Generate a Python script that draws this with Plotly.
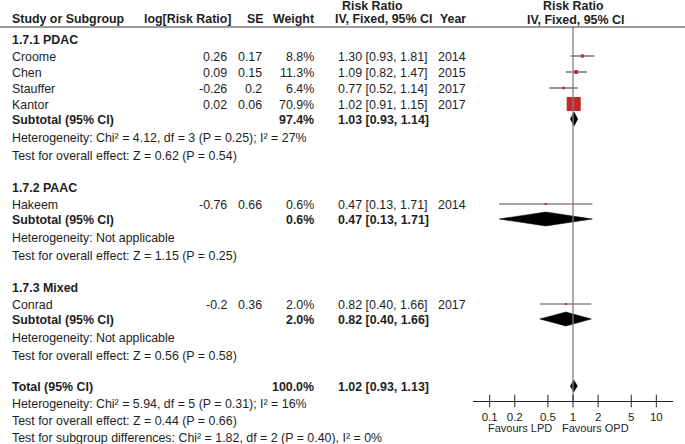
import plotly.graph_objects as go

# ---------------- data ----------------
groups = ["1.7.1 PDAC", "1.7.2 PAAC", "1.7.3 Mixed"]
studies = [["Croome", "Chen", "Stauffer", "Kantor"], ["Hakeem"], ["Conrad"]]
log_rr = [[0.26, 0.09, -0.26, 0.02], [-0.76], [-0.2]]
se = [[0.17, 0.15, 0.2, 0.06], [0.66], [0.36]]
weight = [[8.8, 11.3, 6.4, 70.9], [0.6], [2.0]]
rr = [[1.30, 1.09, 0.77, 1.02], [0.47], [0.82]]
rr_lo = [[0.93, 0.82, 0.52, 0.91], [0.13], [0.40]]
rr_hi = [[1.81, 1.47, 1.14, 1.15], [1.71], [1.66]]
year = [[2014, 2015, 2017, 2017], [2014], [2017]]

sub_weight = [97.4, 0.6, 2.0]
sub_rr = [1.03, 0.47, 0.82]
sub_lo = [0.93, 0.13, 0.40]
sub_hi = [1.14, 1.71, 1.66]
sub_het = ["Heterogeneity: Chi² = 4.12, df = 3 (P = 0.25); I² = 27%",
           "Heterogeneity: Not applicable",
           "Heterogeneity: Not applicable"]
sub_test = ["Test for overall effect: Z = 0.62 (P = 0.54)",
            "Test for overall effect: Z = 1.15 (P = 0.25)",
            "Test for overall effect: Z = 0.56 (P = 0.58)"]

total_weight = 100.0
total_rr, total_lo, total_hi = 1.02, 0.93, 1.13
total_texts = ["Heterogeneity: Chi² = 5.94, df = 5 (P = 0.31); I² = 16%",
               "Test for overall effect: Z = 0.44 (P = 0.66)",
               "Test for subgroup differences: Chi² = 1.82, df = 2 (P = 0.40), I² = 0%"]

tick_vals = [0.1, 0.2, 0.5, 1, 2, 5, 10]
tick_text = ["0.1", "0.2", "0.5", "1", "2", "5", "10"]
favours = ["Favours LPD", "Favours OPD"]

# ---------------- layout helpers ----------------
W, H = 685, 444
AXIS_Y = 401
FONT = "Liberation Sans, Arial, sans-serif"
TXT = "#1e1e1e"
RED = "#c4262b"
FS = 12.4

def px(x):
    return x / W

def py(y):
    return 1 - y / H

annotations = []

def txt(x, y, s, anchor="left", bold=False, size=FS):
    annotations.append(dict(
        x=px(x), y=py(y), xref="paper", yref="paper", text=f"<b>{s}</b>" if bold else s,
        showarrow=False, xanchor=anchor, yanchor="middle",
        font=dict(family=FONT, size=size, color=TXT)))

# column positions (screen pixels)
C_NAME, C_LOG, C_SE, C_W, C_CI, C_YR = 10, 229, 264, 316, 336, 436

fig = go.Figure()

# headers
txt(372, 6, "Risk Ratio", "center", True)
txt(573, 6, "Risk Ratio", "center", True)
txt(C_NAME, 19, "Study or Subgroup", "left", True)
txt(233, 19, "log[Risk Ratio]", "right", True)
txt(266, 19, "SE", "right", True)
txt(316, 19, "Weight", "right", True)
txt(333, 19, "IV, Fixed, 95% CI", "left", True)
txt(438, 19, "Year", "left", True)
txt(575, 20, "IV, Fixed, 95% CI", "center", True)

shapes = [dict(type="line", xref="paper", yref="paper", x0=0, x1=1,
               y0=py(27), y1=py(27), line=dict(color="#3a3a3a", width=1))]

def ci_str(e, l, h):
    return f"{e:.2f} [{l:.2f}, {h:.2f}]"

def diamond(e, l, h, y, hh):
    fig.add_trace(go.Scatter(
        x=[l, e, h, e, l], y=[y, y - hh, y, y + hh, y], mode="lines",
        fill="toself", fillcolor="black", line=dict(color="black", width=0.5),
        hoverinfo="skip", showlegend=False))

group_start = [40, 188, 288]
row_h = 16
for g in range(len(groups)):
    y0 = group_start[g]
    txt(C_NAME, y0, groups[g], "left", True)
    y = y0 + 17
    for i, name in enumerate(studies[g]):
        txt(C_NAME, y, name)
        txt(C_LOG, y, str(log_rr[g][i]), "right")
        txt(C_SE, y, str(se[g][i]), "right")
        txt(C_W, y, f"{weight[g][i]:.1f}%", "right")
        txt(C_CI, y, ci_str(rr[g][i], rr_lo[g][i], rr_hi[g][i]))
        txt(C_YR, y, str(year[g][i]))
        # CI line
        fig.add_trace(go.Scatter(
            x=[rr_lo[g][i], rr_hi[g][i]], y=[y - 1, y - 1], mode="lines",
            line=dict(color="#5a4c4c", width=1.2), hoverinfo="skip", showlegend=False))
        size = max(2.0, 14 * (weight[g][i] / 70.9) ** 0.7)
        fig.add_trace(go.Scatter(
            x=[rr[g][i]], y=[y - 1], mode="markers",
            marker=dict(symbol="square", size=size, color=RED,
                        line=dict(width=0)), hoverinfo="skip", showlegend=False))
        y += row_h
    y -= 1
    txt(C_NAME, y, "Subtotal (95% CI)", "left", True)
    txt(C_W, y, f"{sub_weight[g]:.1f}%", "right", True)
    txt(C_CI, y, ci_str(sub_rr[g], sub_lo[g], sub_hi[g]), "left", True)
    diamond(sub_rr[g], sub_lo[g], sub_hi[g], y - 1, 7)
    txt(C_NAME, y + 18, sub_het[g])
    txt(C_NAME, y + 36, sub_test[g])

# total
txt(C_NAME, 387, "Total (95% CI)", "left", True)
txt(C_W, 387, f"{total_weight:.1f}%", "right", True)
txt(C_CI, 387, ci_str(total_rr, total_lo, total_hi), "left", True)
diamond(total_rr, total_lo, total_hi, 386, 6)
for k, s in enumerate(total_texts):
    txt(C_NAME, 404 + 17 * k, s)

# null line
fig.add_trace(go.Scatter(x=[1, 1], y=[27, AXIS_Y], mode="lines",
                         line=dict(color="#8c7b7b", width=1.3),
                         hoverinfo="skip", showlegend=False))
# tick marks crossing axis
fig.add_trace(go.Scatter(x=tick_vals, y=[AXIS_Y] * len(tick_vals), mode="markers",
                         marker=dict(symbol="line-ns", size=9,
                                     line=dict(color="#222", width=1)),
                         cliponaxis=False, hoverinfo="skip", showlegend=False))

# favours labels
txt(554, 428, favours[0], "right", size=11)
txt(560, 428, favours[1], "left", size=11)

fig.update_layout(
    width=W, height=H, autosize=False,
    margin=dict(l=0, r=0, t=0, b=0),
    paper_bgcolor="white", plot_bgcolor="rgba(0,0,0,0)",
    annotations=annotations, shapes=shapes,
    xaxis=dict(type="log", range=[-1.2, 1.2], domain=[px(473), px(673)],
               showgrid=False, zeroline=False, showline=True,
               linecolor="#222", linewidth=1,
               tickvals=tick_vals, ticktext=tick_text, ticks="",
               ticklabelstandoff=5,
               tickfont=dict(family=FONT, size=11.5, color=TXT)),
    yaxis=dict(range=[AXIS_Y, 0], domain=[py(AXIS_Y), 1], visible=False,
               showgrid=False, zeroline=False),
)

fig.write_html("out.html",
               config={"displayModeBar": False},
               post_script="document.body.style.margin='0px';document.body.style.overflow='hidden';")
